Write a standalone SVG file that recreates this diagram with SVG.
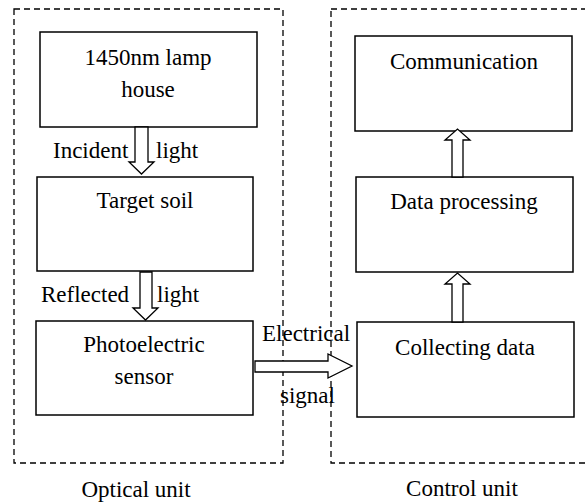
<svg xmlns="http://www.w3.org/2000/svg" width="585" height="503" viewBox="0 0 585 503">
<style>
.unit{fill:none;stroke:#000;stroke-width:1.3;stroke-dasharray:6,4}
.box{fill:#fff;stroke:#000;stroke-width:1.5}
.arr{fill:#fff;stroke:#000;stroke-width:1.3;stroke-linejoin:miter}
</style>
<rect width="585" height="503" fill="#fff"/>
<g id="optical-unit">
<rect class="unit" x="14" y="9" width="269" height="454"/>
<text style="font-family:'Liberation Serif',serif !important" font-size="23" text-anchor="middle" x="136" y="497">Optical unit</text>
</g>
<g id="control-unit">
<rect class="unit" x="331" y="9" width="270" height="454"/>
<text style="font-family:'Liberation Serif',serif !important" font-size="23" text-anchor="middle" x="462" y="496">Control unit</text>
</g>
<g id="lamp-house">
<rect class="box" x="40" y="32" width="217" height="95"/>
<text style="font-family:'Liberation Serif',serif !important" font-size="23" text-anchor="middle" x="148" y="65">1450nm lamp</text>
<text style="font-family:'Liberation Serif',serif !important" font-size="23" text-anchor="middle" x="148" y="97">house</text>
</g>
<g id="target-soil">
<rect class="box" x="37" y="177" width="216" height="94"/>
<text style="font-family:'Liberation Serif',serif !important" font-size="23" text-anchor="middle" x="145" y="208">Target soil</text>
</g>
<g id="photoelectric-sensor">
<rect class="box" x="36" y="321" width="217" height="94"/>
<text style="font-family:'Liberation Serif',serif !important" font-size="23" text-anchor="middle" x="144" y="352">Photoelectric</text>
<text style="font-family:'Liberation Serif',serif !important" font-size="23" text-anchor="middle" x="144" y="384">sensor</text>
</g>
<g id="communication">
<rect class="box" x="355" y="36" width="217" height="95"/>
<text style="font-family:'Liberation Serif',serif !important" font-size="23" text-anchor="middle" x="464" y="69">Communication</text>
</g>
<g id="data-processing">
<rect class="box" x="356" y="177" width="217" height="95"/>
<text style="font-family:'Liberation Serif',serif !important" font-size="23" text-anchor="middle" x="464" y="209">Data processing</text>
</g>
<g id="collecting-data">
<rect class="box" x="357" y="322" width="217" height="95"/>
<text style="font-family:'Liberation Serif',serif !important" font-size="23" text-anchor="middle" x="465" y="355">Collecting data</text>
</g>
<g id="connectors">
<path class="arr" d="M135,127 L148,127 L148,162 L154,162 L141.5,174 L129,162 L135,162 Z"/>
<text style="font-family:'Liberation Serif',serif !important" font-size="23" x="53" y="158">Incident</text>
<text style="font-family:'Liberation Serif',serif !important" font-size="23" x="156" y="158">light</text>
<path class="arr" d="M140,272 L152,272 L152,308 L158,308 L145.5,320 L133,308 L140,308 Z"/>
<text style="font-family:'Liberation Serif',serif !important" font-size="23" x="41" y="302">Reflected</text>
<text style="font-family:'Liberation Serif',serif !important" font-size="23" x="157" y="302">light</text>
<path class="arr" d="M255,361 L328,361 L328,354 L352,366 L328,378 L328,372 L255,372 Z"/>
<text style="font-family:'Liberation Serif',serif !important" font-size="23" x="262" y="341">Electrical</text>
<text style="font-family:'Liberation Serif',serif !important" font-size="23" x="280" y="403">signal</text>
<path class="arr" d="M452,322 L463,322 L463,284 L470,284 L457.5,273 L445,284 L452,284 Z"/>
<path class="arr" d="M452,177 L463,177 L463,140 L470,140 L457.5,129 L445,140 L452,140 Z"/>
</g>
</svg>
